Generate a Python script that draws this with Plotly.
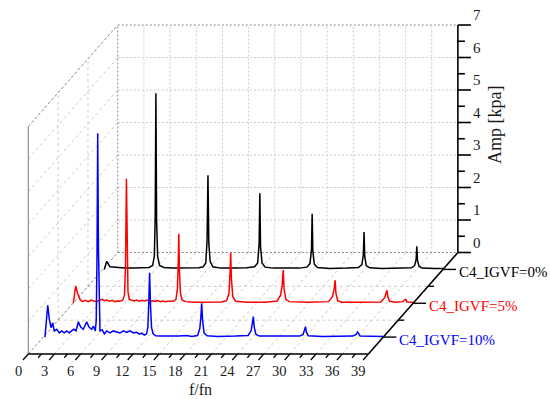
import plotly.graph_objects as go

# ------------------------------------------------------------------ data
series_names = ["C4_IGVF=0%", "C4_IGVF=5%", "C4_IGVF=10%"]
series_colors = ["#000000", "#ff0000", "#0000ff"]
series_depth = [5 / 6, 1 / 2, 1 / 6]          # category centres on the depth axis

black_f = [0.16, 0.44, 0.81, 1.5, 2.5, 3.5, 4.5, 5.3, 5.7, 5.9, 6.0, 6.08, 6.16, 6.28, 6.5,
           7.0, 8.0, 9.0, 10.0, 11.0, 11.5, 11.8, 11.95, 12.05, 12.15, 12.3, 12.6, 13.5, 15.0,
           16.5, 17.4, 17.75, 17.92, 18.0, 18.08, 18.25, 18.6, 19.5, 21.0, 22.5, 23.4, 23.75,
           23.92, 24.0, 24.08, 24.25, 24.6, 26.0, 28.0, 29.3, 29.7, 29.87, 29.95, 30.03, 30.2,
           30.6, 32.0, 34.0, 35.4, 35.75, 35.92, 36.0, 36.08, 36.25, 36.6, 38.0, 39.0]
black_amp = [0.0, 0.25, 0.08, 0.06, 0.04, 0.04, 0.04, 0.06, 0.12, 0.4, 1.6, 5.42, 1.5, 0.4, 0.12,
             0.06, 0.04, 0.04, 0.04, 0.05, 0.08, 0.2, 0.9, 2.9, 0.8, 0.25, 0.08, 0.04, 0.04,
             0.05, 0.08, 0.2, 0.8, 2.34, 0.7, 0.2, 0.07, 0.04, 0.04, 0.04, 0.07, 0.18,
             0.6, 1.71, 0.55, 0.16, 0.06, 0.03, 0.04, 0.06, 0.15, 0.45, 1.15, 0.4, 0.12,
             0.05, 0.03, 0.03, 0.05, 0.12, 0.3, 0.71, 0.28, 0.1, 0.04, 0.03, 0.03]

red_f = [0.03, 0.3, 0.49, 0.8, 1.06, 1.37, 1.75, 2.06, 2.4, 2.7, 3.0, 3.3, 3.6, 3.9, 4.2, 4.5,
         4.8, 5.1, 5.4, 5.7, 5.9, 6.02, 6.12, 6.2, 6.3, 6.45, 6.7, 7.0, 7.3, 7.6, 7.9, 8.2, 8.5,
         8.8, 9.1, 9.4, 9.7, 10.0, 10.3, 10.6, 10.9, 11.2, 11.5, 11.8, 11.97, 12.06, 12.13,
         12.2, 12.32, 12.5, 12.9, 14.0, 15.0, 16.0, 17.0, 17.6, 17.88, 18.0, 18.08, 18.16,
         18.32, 18.65, 20.0, 22.0, 23.4, 23.8, 23.98, 24.1, 24.2, 24.4, 24.8, 27.0, 29.3,
         29.75, 29.95, 30.05, 30.15, 30.35, 30.8, 33.0, 35.3, 35.75, 35.92, 36.0, 36.1, 36.3,
         37.0, 37.8, 38.0, 38.15, 38.3, 39.0]
red_amp = [0.0, 0.53, 0.33, 0.12, 0.05, 0.09, 0.05, 0.1, 0.07, 0.05, 0.09, 0.12, 0.08, 0.1, 0.06,
           0.09, 0.05, 0.07, 0.06, 0.1, 0.25, 1.2, 3.83, 1.5, 0.35, 0.12, 0.1, 0.07, 0.1, 0.06,
           0.09, 0.07, 0.1, 0.06, 0.08, 0.06, 0.08, 0.05, 0.07, 0.05, 0.06, 0.05, 0.06, 0.12,
           0.45, 1.2, 2.14, 1.0, 0.3, 0.1, 0.05, 0.03, 0.04, 0.03, 0.04, 0.08, 0.3, 0.9, 1.55,
           0.75, 0.2, 0.06, 0.03, 0.03, 0.07, 0.25, 0.55, 1.02, 0.45, 0.12, 0.05, 0.03, 0.05,
           0.2, 0.45, 0.71, 0.3, 0.08, 0.03, 0.03, 0.04, 0.18, 0.32, 0.40, 0.2, 0.06, 0.03,
           0.05, 0.1, 0.12, 0.04, 0.03]

blue_f = [0.2, 0.52, 0.70, 0.89, 1.09, 1.27, 1.55, 1.85, 2.12, 2.42, 2.69, 2.99, 3.27, 3.53,
          3.76, 4.03, 4.30, 4.60, 4.99, 5.25, 5.56, 5.75, 5.97, 6.08, 6.17, 6.25, 6.33, 6.43,
          6.51, 6.78, 7.01, 7.28, 7.66, 8.04, 8.43, 8.81, 9.19, 9.58, 9.95, 10.33, 10.72, 11.0,
          11.3, 11.6, 11.85, 12.0, 12.1, 12.2, 12.3, 12.42, 12.6, 12.9, 13.5, 14.5, 15.5, 16.5,
          17.0, 17.7, 17.95, 18.08, 18.17, 18.27, 18.45, 18.8, 20.0, 22.0, 23.5, 23.85, 24.0,
          24.1, 24.2, 24.4, 24.8, 27.0, 29.4, 29.8, 29.98, 30.08, 30.18, 30.4, 32.0, 35.5, 35.9,
          36.05, 36.15, 36.35, 39.0]
blue_amp = [0.0, 0.98, 0.55, 0.29, 0.44, 0.19, 0.24, 0.13, 0.19, 0.13, 0.19, 0.13, 0.20, 0.24,
            0.19, 0.47, 0.31, 0.24, 0.47, 0.31, 0.24, 0.34, 0.19, 0.5, 2.5, 6.27, 2.8, 0.5,
            0.19, 0.22, 0.10, 0.19, 0.13, 0.19, 0.16, 0.13, 0.19, 0.14, 0.19, 0.13, 0.15, 0.09,
            0.12, 0.06, 0.1, 0.3, 1.0, 1.98, 1.0, 0.3, 0.1, 0.04, 0.03, 0.02, 0.03, 0.05,
            0.02, 0.05, 0.25, 0.6, 1.04, 0.55, 0.12, 0.04, 0.02, 0.03, 0.05, 0.2, 0.4,
            0.63, 0.3, 0.08, 0.03, 0.02, 0.03, 0.08, 0.22, 0.32, 0.15, 0.04, 0.02, 0.03, 0.08,
            0.16, 0.12, 0.03, 0.02]

series_f = [black_f, red_f, blue_f]
series_amp = [black_amp, red_amp, blue_amp]

x_ticks = [0, 3, 6, 9, 12, 15, 18, 21, 24, 27, 30, 33, 36, 39]
x_minor = [1.5 + 3 * i for i in range(13)]
z_ticks = [0, 1, 2, 3, 4, 5, 6, 7]
z_minor = [0.5 + i for i in range(7)]
depth_bounds = [1 / 3, 2 / 3]
F_MAX, Z_MAX = 39, 7
x_title, z_title = "f/fn", "Amp [kpa]"

# ------------------------------------------------------------------ geometry
W, H = 550, 399
X0_PX, Y0_PX = 28.3, 354.0          # front-left-bottom corner on screen
PX_PER_F, PX_PER_Z = 8.72, 32.5
DEPTH_DX_PX, DEPTH_DY_PX = 89.5, 101.5
DEPTH_LEN_PX = (DEPTH_DX_PX ** 2 + DEPTH_DY_PX ** 2) ** 0.5
DX = DEPTH_DX_PX / PX_PER_F
DZ = DEPTH_DY_PX / PX_PER_Z


def proj(f, d, z):
    return f + d * DX, z + d * DZ


FONT = "Liberation Serif, DejaVu Serif, serif"
fig = go.Figure()


def segs(pairs, color, width=1.0, dash="solid"):
    xs, ys = [], []
    for a, b in pairs:
        x1, y1 = proj(*a)
        x2, y2 = proj(*b)
        xs += [x1, x2, None]
        ys += [y1, y2, None]
    fig.add_trace(go.Scatter(x=xs, y=ys, mode="lines", hoverinfo="skip", showlegend=False,
                             line=dict(color=color, width=width, dash=dash)))


LIGHT = "#cccccc"
MID = "#8a8a8a"

# back wall grid (d = 1)
segs([((f, 1, 0), (f, 1, Z_MAX)) for f in x_ticks[1:-1]], LIGHT, 1, "2px,2px")
segs([((0, 1, z), (F_MAX, 1, z)) for z in z_ticks[1:-1]], LIGHT, 1, "2px,2px")
# left wall grid (f = 0)
segs([((0, d, 0), (0, d, Z_MAX)) for d in depth_bounds], LIGHT, 1, "3px,3px")
segs([((0, 0, z), (0, 1, z)) for z in z_ticks[1:-1]], LIGHT, 1, "3px,3px")
# floor grid (z = 0)
segs([((f, 0, 0), (f, 1, 0)) for f in x_ticks[1:-1]], LIGHT, 1, "3px,3px")
segs([((0, d, 0), (F_MAX, d, 0)) for d in depth_bounds], LIGHT, 1, "3px,3px")
# box edges
segs([((0, 1, Z_MAX), (F_MAX, 1, Z_MAX)), ((0, 1, 0), (0, 1, Z_MAX)),
      ((0, 1, 0), (F_MAX, 1, 0))], MID, 1, "2px,2px")
segs([((0, 0, Z_MAX), (0, 1, Z_MAX)), ((0, 0, 0), (0, 1, 0))], MID, 1, "3px,2px")
segs([((0, 0, 0), (0, 0, Z_MAX))], "#7a7a7a", 1)

# spectra, back to front
for f_vals, a_vals, d, col in zip(series_f, series_amp, series_depth, series_colors):
    xs, ys = [], []
    for f, a in zip(f_vals, a_vals):
        x, y = proj(f, d, a)
        xs.append(x)
        ys.append(y)
    fig.add_trace(go.Scatter(x=xs, y=ys, mode="lines", hoverinfo="skip", showlegend=False,
                             line=dict(color=col, width=1.5)))

# axes
AX = "#000000"
segs([((0, 0, 0), (F_MAX, 0, 0)), ((F_MAX, 0, 0), (F_MAX, 1, 0)),
      ((F_MAX, 1, 0), (F_MAX, 1, Z_MAX))], AX, 1.6)
# x ticks (pointing toward the viewer along -depth)
segs([((f, 0, 0), (f, -8 / DEPTH_LEN_PX, 0)) for f in x_ticks], AX, 1.2)
segs([((f, 0, 0), (f, -5 / DEPTH_LEN_PX, 0)) for f in x_minor], AX, 1.2)
# depth ticks (pointing right)
segs([((F_MAX, d, 0), (F_MAX + 13 / PX_PER_F, d, 0)) for d in series_depth], AX, 1.4)
segs([((F_MAX, d, 0), (F_MAX + 6 / PX_PER_F, d, 0)) for d in depth_bounds], AX, 1.4)
# z ticks
segs([((F_MAX, 1, z), (F_MAX + 13 / PX_PER_F, 1, z)) for z in z_ticks], AX, 1.6)
segs([((F_MAX, 1, z), (F_MAX + 7 / PX_PER_F, 1, z)) for z in z_minor], AX, 1.6)

ann = []
TXT = "#1a1a1a"
for f in x_ticks:
    x, y = proj(f, 0, 0)
    ann.append(dict(x=x, y=y, text=str(f), showarrow=False, xanchor="center", yanchor="middle",
                    xshift=-10, yshift=-17, font=dict(family=FONT, size=14.5, color=TXT)))
for z in z_ticks:
    x, y = proj(F_MAX, 1, z)
    ann.append(dict(x=x, y=y, text=str(z), showarrow=False, xanchor="left", yanchor="middle",
                    xshift=13, yshift=10, font=dict(family=FONT, size=15, color=TXT)))
for name, d, col in zip(series_names, series_depth, series_colors):
    x, y = proj(F_MAX, d, 0)
    ann.append(dict(x=x, y=y, text=name, showarrow=False, xanchor="left", yanchor="middle",
                    xshift=14, yshift=-3, font=dict(family=FONT, size=15, color=col)))
ann.append(dict(x=200 / W, y=1 - 389.5 / H, xref="paper", yref="paper", text=x_title,
                showarrow=False, xanchor="center", yanchor="middle",
                font=dict(family=FONT, size=16, color=TXT)))
ann.append(dict(x=495 / W, y=1 - 125 / H, xref="paper", yref="paper", text=z_title,
                showarrow=False, xanchor="center", yanchor="middle", textangle=-90,
                font=dict(family=FONT, size=18, color=TXT)))

fig.update_layout(
    width=W, height=H, margin=dict(l=0, r=0, t=0, b=0),
    paper_bgcolor="white", plot_bgcolor="white",
    xaxis=dict(range=[-X0_PX / PX_PER_F, (W - X0_PX) / PX_PER_F], visible=False, fixedrange=True),
    yaxis=dict(range=[-(H - Y0_PX) / PX_PER_Z, Y0_PX / PX_PER_Z], visible=False, fixedrange=True),
    annotations=ann, showlegend=False,
)
fig.write_html("out.html", config={"displayModeBar": False},
               post_script="document.body.style.margin='0';document.body.style.overflow='hidden';")
